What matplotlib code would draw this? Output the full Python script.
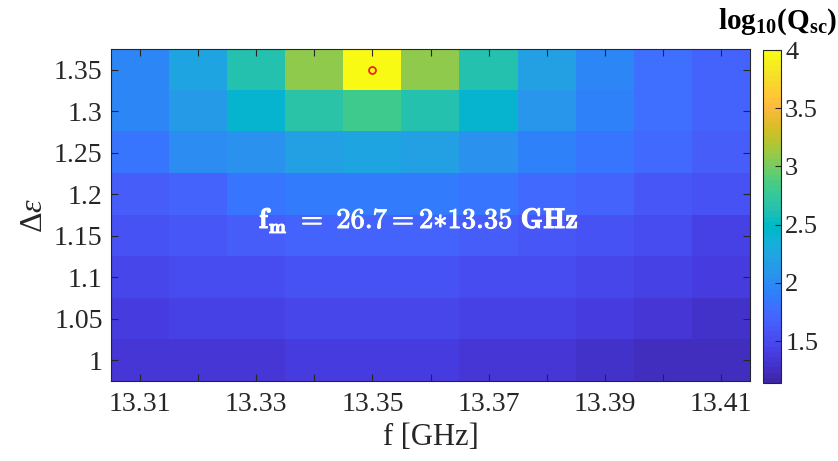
from matplotlib import pyplot as plt
from matplotlib.colors import ListedColormap
import matplotlib.patheffects as pe
import numpy as np

# parula (64 entries)
parula_rgb = [
    [0.2422, 0.1504, 0.6603], [0.2504, 0.1650, 0.7076], [0.2578, 0.1818, 0.7511], [0.2647, 0.1978, 0.7952],
    [0.2706, 0.2147, 0.8364], [0.2751, 0.2342, 0.8710], [0.2783, 0.2559, 0.8991], [0.2803, 0.2782, 0.9221],
    [0.2813, 0.3006, 0.9414], [0.2810, 0.3228, 0.9579], [0.2795, 0.3447, 0.9717], [0.2760, 0.3667, 0.9829],
    [0.2699, 0.3892, 0.9906], [0.2602, 0.4123, 0.9952], [0.2440, 0.4358, 0.9988], [0.2206, 0.4603, 0.9973],
    [0.1963, 0.4847, 0.9892], [0.1834, 0.5074, 0.9798], [0.1786, 0.5289, 0.9682], [0.1764, 0.5499, 0.9520],
    [0.1687, 0.5703, 0.9359], [0.1540, 0.5902, 0.9218], [0.1460, 0.6091, 0.9079], [0.1380, 0.6276, 0.8973],
    [0.1248, 0.6459, 0.8883], [0.1113, 0.6635, 0.8763], [0.0952, 0.6798, 0.8598], [0.0689, 0.6948, 0.8394],
    [0.0297, 0.7082, 0.8163], [0.0036, 0.7203, 0.7917], [0.0067, 0.7312, 0.7660], [0.0433, 0.7411, 0.7394],
    [0.0964, 0.7500, 0.7120], [0.1408, 0.7584, 0.6842], [0.1717, 0.7670, 0.6554], [0.1938, 0.7758, 0.6251],
    [0.2161, 0.7843, 0.5923], [0.2470, 0.7918, 0.5567], [0.2906, 0.7973, 0.5188], [0.3406, 0.8008, 0.4789],
    [0.3909, 0.8029, 0.4354], [0.4456, 0.8024, 0.3909], [0.5044, 0.7993, 0.3480], [0.5616, 0.7942, 0.3045],
    [0.6174, 0.7876, 0.2612], [0.6720, 0.7793, 0.2227], [0.7242, 0.7698, 0.1910], [0.7738, 0.7598, 0.1646],
    [0.8203, 0.7498, 0.1535], [0.8634, 0.7406, 0.1596], [0.9035, 0.7330, 0.1774], [0.9393, 0.7288, 0.2100],
    [0.9728, 0.7298, 0.2394], [0.9956, 0.7434, 0.2371], [0.9970, 0.7659, 0.2199], [0.9952, 0.7893, 0.2028],
    [0.9892, 0.8136, 0.1885], [0.9786, 0.8386, 0.1766], [0.9676, 0.8639, 0.1643], [0.9610, 0.8890, 0.1537],
    [0.9597, 0.9135, 0.1423], [0.9628, 0.9373, 0.1265], [0.9691, 0.9606, 0.1064], [0.9769, 0.9839, 0.0805],
]
parula = ListedColormap(parula_rgb, name='parula')

freq = [13.31, 13.32, 13.33, 13.34, 13.35, 13.36, 13.37, 13.38, 13.39, 13.40, 13.41]
deps = [1.00, 1.05, 1.10, 1.15, 1.20, 1.25, 1.30, 1.35]

# log10(Qsc), rows follow deps (bottom -> top)
logQ_100 = [1.32, 1.34, 1.36, 1.37, 1.38, 1.37, 1.36, 1.34, 1.30, 1.24, 1.25]
logQ_105 = [1.39, 1.42, 1.45, 1.46, 1.47, 1.46, 1.45, 1.43, 1.39, 1.34, 1.31]
logQ_110 = [1.47, 1.50, 1.54, 1.56, 1.57, 1.56, 1.54, 1.52, 1.47, 1.43, 1.38]
logQ_115 = [1.55, 1.60, 1.66, 1.70, 1.72, 1.70, 1.66, 1.61, 1.57, 1.50, 1.45]
logQ_120 = [1.65, 1.72, 1.83, 1.86, 1.88, 1.86, 1.82, 1.75, 1.70, 1.63, 1.57]
logQ_125 = [1.83, 2.00, 2.05, 2.20, 2.25, 2.20, 2.05, 1.93, 1.85, 1.75, 1.65]
logQ_130 = [1.95, 2.15, 2.40, 2.68, 2.80, 2.65, 2.40, 2.12, 1.93, 1.77, 1.68]
logQ_135 = [1.97, 2.23, 2.63, 3.10, 3.98, 3.10, 2.63, 2.20, 1.95, 1.77, 1.68]

Z = np.array([logQ_100, logQ_105, logQ_110, logQ_115, logQ_120, logQ_125, logQ_130, logQ_135])

peak_f = 13.35
peak_d = 1.35

plt.rcParams['font.family'] = 'Liberation Serif'
plt.rcParams['mathtext.fontset'] = 'custom'
plt.rcParams['mathtext.rm'] = 'Liberation Serif'
plt.rcParams['mathtext.it'] = 'Liberation Serif:italic'
plt.rcParams['mathtext.bf'] = 'Liberation Serif:bold'

fig = plt.figure(figsize=(8.38, 4.61), dpi=100)
ax = fig.add_axes([0.1325, 0.1735, 0.7625, 0.7205])

df = 0.005
dd = 0.025
im = ax.imshow(Z, origin='lower', aspect='auto', cmap=parula, vmin=1.14, vmax=4.0,
               extent=[freq[0] - df, freq[-1] + df, deps[0] - dd, deps[-1] + dd],
               interpolation='nearest')
ax.plot(peak_f, peak_d, 'o', mfc='none', mec='#e8281e', ms=5, mew=1.3)

ax.text(13.358, 1.168, r'$\mathbf{f_m\ =\ 26.7{=}2{*}13.35\ GHz}$', color='white',
        fontsize=20.5, ha='center', va='center', math_fontfamily='cm',
        path_effects=[pe.withStroke(linewidth=0.7, foreground='white')])

ax.set_xticks(freq)
ax.set_xticklabels([('%.2f' % f) if i % 2 == 0 else '' for i, f in enumerate(freq)])
ax.set_yticks(deps)
ax.set_yticklabels(['1', '1.05', '1.1', '1.15', '1.2', '1.25', '1.3', '1.35'])
ax.tick_params(direction='in', top=True, right=True, length=5, width=0.8,
               color='#262626', labelsize=20, labelcolor='#262626')
ax.tick_params(axis='x', pad=8)
ax.tick_params(axis='y', pad=6)
for s in ax.spines.values():
    s.set_color('#262626')
    s.set_linewidth(0.8)

ax.set_xlabel('f [GHz]', fontsize=22, color='#262626', labelpad=4)
ax.set_ylabel(r'$\Delta\varepsilon$', fontsize=23, color='#262626', labelpad=4)

cax = fig.add_axes([0.9105, 0.169, 0.0215, 0.7225])
cb = fig.colorbar(im, cax=cax)
cb.set_ticks([1.5, 2, 2.5, 3, 3.5, 4])
cb.set_ticklabels(['1.5', '2', '2.5', '3', '3.5', '4'])
cax.tick_params(direction='in', length=4, width=0.8, color='#262626',
                labelsize=19, labelcolor='#262626', pad=3)
cb.outline.set_edgecolor('#262626')
cb.outline.set_linewidth(0.8)

fig.text(0.999, 0.952, r'$\mathbf{log_{\mathbf{10}}(Q_{\mathbf{sc}})}$', fontsize=21, ha='right',
         va='center', color='black')

plt.savefig('out.png', dpi=100)
